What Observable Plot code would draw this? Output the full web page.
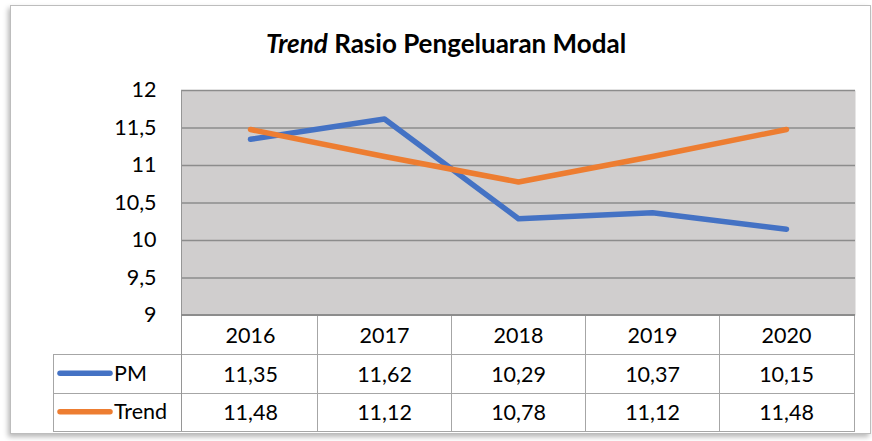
<!DOCTYPE html>
<html>
<head>
<meta charset="utf-8">
<script src="https://cdn.jsdelivr.net/npm/d3@7"></script>
<script src="https://cdn.jsdelivr.net/npm/@observablehq/plot@0.6"></script>
<style>
  html, body { margin: 0; padding: 0; background: #fff; }
  #wrap { position: relative; width: 872px; height: 441px; overflow: hidden; background: #fff; font-family: Lato, "Open Sans", sans-serif; }
  #frame { position: absolute; left: 10px; top: 5px; width: 859px; height: 427px; border: 1px solid #bdbdbd; box-shadow: -2px 3px 5px rgba(0,0,0,0.28); background: #fff; }
  #title { position: absolute; top: 27px; left: 20px; width: 852px; text-align: center; font-size: 26px; font-weight: 700; color: #000; }
  #chart { position: absolute; left: 0; top: 0; }
</style>
</head>
<body>
<div id="wrap">
  <div id="frame"></div>
  <div id="chart"></div>
  <div id="title"><i>Trend</i> Rasio Pengeluaran Modal</div>
</div>
<script>
const years = ["2016", "2017", "2018", "2019", "2020"];
const pmValues = [11.35, 11.62, 10.29, 10.37, 10.15];
const trendValues = [11.48, 11.12, 10.78, 11.12, 11.48];
const seriesNames = ["PM", "Trend"];
const seriesColors = ["#4472C4", "#ED7D31"];
const yTicks = [9, 9.5, 10, 10.5, 11, 11.5, 12];

const comma = (v) => String(v).replace(".", ",");
const comma2 = (v) => v.toFixed(2).replace(".", ",");

const series = [
  {name: seriesNames[0], color: seriesColors[0], values: pmValues},
  {name: seriesNames[1], color: seriesColors[1], values: trendValues}
];
const rows = series.flatMap((s, si) => years.map((yr, i) => ({series: s.name, row: si, year: yr, value: s.values[i], color: s.color})));

const headerH = 39, rowH = 38.5;
const fs = 21.5;

function tableGrid(index, scales, values, dims) {
  const x = scales.x;
  const left = dims.marginLeft, right = dims.width - dims.marginRight;
  const top = dims.marginTop;
  const base = dims.height - dims.marginBottom;
  const legendLeft = 53;
  const bottom = base + headerH + rowH * series.length;
  const g = d3.create("svg:g").attr("fill", "none").attr("stroke", "#a6a6a6").attr("stroke-width", 1).attr("shape-rendering", "crispEdges");
  for (let r = 0; r <= series.length; r++) {
    const yy = Math.round(base + headerH + rowH * r) + 0.5;
    g.append("line").attr("x1", legendLeft).attr("x2", right).attr("y1", yy).attr("y2", yy);
  }
  g.append("line").attr("x1", legendLeft + 0.5).attr("x2", legendLeft + 0.5).attr("y1", base + headerH).attr("y2", bottom);
  g.append("line").attr("x1", left + 0.5).attr("x2", left + 0.5).attr("y1", top).attr("y2", bottom).attr("stroke", "#969696");
  years.slice(1).forEach(yr => {
    const xx = Math.round(x(yr)) + 0.5;
    g.append("line").attr("x1", xx).attr("x2", xx).attr("y1", base).attr("y2", bottom);
  });
  g.append("line").attr("x1", right - 0.5).attr("x2", right - 0.5).attr("y1", base).attr("y2", bottom);
  g.append("line").attr("x1", left).attr("x2", right).attr("y1", base - 0.5).attr("y2", base - 0.5).attr("stroke", "#8c8c8c").attr("stroke-width", 2);
  series.forEach((s, si) => {
    const yy = base + headerH + rowH * si + rowH / 2;
    g.append("line").attr("x1", 60).attr("x2", 110).attr("y1", yy).attr("y2", yy)
      .attr("stroke", s.color).attr("stroke-width", 5.5).attr("stroke-linecap", "round").attr("shape-rendering", "auto");
    g.append("text").attr("x", 114).attr("y", yy).attr("dy", "0.35em").attr("stroke", "none").attr("fill", "#000")
      .attr("text-anchor", "start").attr("font-size", fs).text(s.name);
  });
  return g.node();
}

const chart = Plot.plot({
  width: 872,
  height: 441,
  marginLeft: 181,
  marginRight: 17,
  marginTop: 90,
  marginBottom: 126,
  x: {type: "band", domain: years, padding: 0, axis: null},
  y: {domain: [9, 12], axis: null, label: null},
  style: {fontFamily: "Lato, 'Open Sans', sans-serif", fontSize: "21px", background: "transparent", color: "#000", overflow: "visible"},
  marks: [
    Plot.frame({fill: "#D0CECE", stroke: null}),
    Plot.ruleY(yTicks.slice(1), {stroke: "#8c8c8c", strokeWidth: 1.5, strokeOpacity: 1}),
    Plot.axisY(yTicks, {tickSize: 0, tickPadding: 25, tickFormat: comma, fontSize: fs, fill: "#000", label: null}),
    Plot.line(series[0].values.map((v, i) => ({year: years[i], v})), {x: "year", y: "v", stroke: series[0].color, strokeWidth: 5.5, strokeLinecap: "round", strokeLinejoin: "round"}),
    Plot.line(series[1].values.map((v, i) => ({year: years[i], v})), {x: "year", y: "v", stroke: series[1].color, strokeWidth: 5.5, strokeLinecap: "round", strokeLinejoin: "round"}),
    tableGrid,
    Plot.text(years, {x: d => d, text: d => d, frameAnchor: "bottom", lineAnchor: "middle", dy: headerH / 2 + 1, fontSize: fs, fill: "#000"}),
    Plot.text(rows, {x: "year", text: d => comma2(d.value), frameAnchor: "bottom", lineAnchor: "middle", fontSize: fs, fill: "#000", filter: d => d.row === 0, dy: headerH + rowH / 2 + 1}),
    Plot.text(rows, {x: "year", text: d => comma2(d.value), frameAnchor: "bottom", lineAnchor: "middle", fontSize: fs, fill: "#000", filter: d => d.row === 1, dy: headerH + rowH * 1.5 + 1})
  ]
});
document.getElementById("chart").appendChild(chart);
</script>
</body>
</html>
